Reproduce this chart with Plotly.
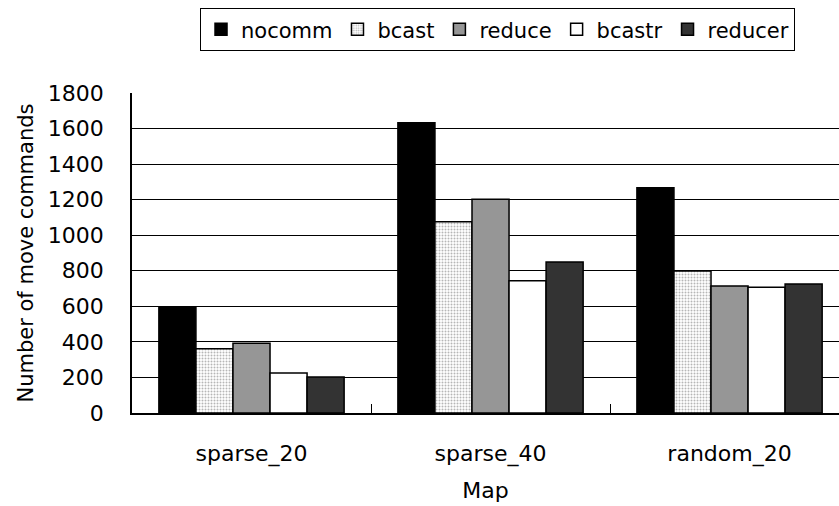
import plotly.graph_objects as go

# Map categories and per-method move-command counts
maps = ["sparse_20", "sparse_40", "random_20"]
nocomm = [592, 1633, 1267]
bcast = [362, 1076, 799]
reduce_ = [392, 1202, 714]
bcastr = [225, 744, 707]
reducer = [202, 849, 726]

y_ticks = [0, 200, 400, 600, 800, 1000, 1200, 1400, 1600, 1800]

FONT = "DejaVu Sans, Arial, sans-serif"

series = [
    ("nocomm", nocomm, dict(color="#000000")),
    ("bcast", bcast, dict(color="#ffffff",
                          pattern=dict(shape=".", fgcolor="#6e6e6e", bgcolor="#ffffff",
                                       size=3, solidity=0.35))),
    ("reduce", reduce_, dict(color="#969696")),
    ("bcastr", bcastr, dict(color="#ffffff")),
    ("reducer", reducer, dict(color="#333333")),
]

fig = go.Figure()
for name, vals, marker in series:
    marker = dict(marker, line=dict(color="#000000", width=1.5))
    fig.add_trace(go.Bar(name=name, x=maps, y=vals, marker=marker))

fig.update_layout(
    width=839,
    height=506,
    margin=dict(l=132, r=0, t=93, b=93),
    paper_bgcolor="white",
    plot_bgcolor="white",
    barmode="group",
    bargap=0.225,
    bargroupgap=0,
    font=dict(family=FONT, size=22, color="#000000"),
    legend=dict(
        orientation="h",
        x=0.517, xanchor="center",
        y=1.265, yanchor="top",
        bordercolor="#000000", borderwidth=1,
        bgcolor="white",
        font=dict(family=FONT, size=21, color="#000000"),
        itemwidth=30,
        traceorder="normal",
    ),
    showlegend=True,
)

fig.update_xaxes(
    type="category",
    range=[-0.5, 2.458],
    tickson="boundaries",
    ticks="inside",
    ticklen=9,
    tickcolor="#000000",
    showline=True,
    linecolor="#000000",
    linewidth=1.5,
    showgrid=False,
    ticklabelstandoff=20,
    title=dict(text="Map", standoff=16, font=dict(family=FONT, size=22)),
)

fig.update_yaxes(
    range=[0, 1800],
    tickvals=y_ticks,
    ticks="inside",
    ticklen=8,
    tickcolor="#000000",
    showline=True,
    linecolor="#000000",
    linewidth=1.5,
    showgrid=True,
    gridcolor="#000000",
    gridwidth=1,
    zeroline=False,
    ticklabelstandoff=22,
    title=dict(text="Number of move commands", standoff=8, font=dict(family=FONT, size=21)),
)

fig.write_html("out.html")
